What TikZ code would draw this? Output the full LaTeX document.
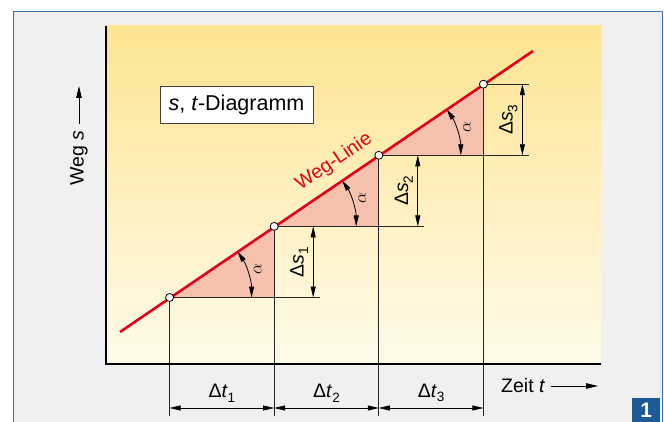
\documentclass[tikz,border=0pt]{standalone}
\usepackage{fontspec}
\setmainfont{Liberation Sans}
\usetikzlibrary{arrows.meta, calc}
\definecolor{framecol}{HTML}{2F74B5}
\definecolor{panelcol}{HTML}{F0F0F0}
\definecolor{plottop}{HTML}{FDE491}
\definecolor{plotbot}{HTML}{FFFBEA}
\definecolor{wegcol}{HTML}{E2001A}
\definecolor{deltacol}{HTML}{F6C2AE}
\definecolor{badgecol}{HTML}{1B5A94}
\newcommand{\lowsub}[1]{\raisebox{-0.45ex}{\fontsize{13.5}{14}\selectfont #1}}
\tikzset{
  pt node/.style={circle, draw=black, fill=white, minimum size=8pt,
                  inner sep=0pt, line width=0.8pt},
  thin line/.style={line width=0.7pt, black!85},
  axis line/.style={line width=1.6pt, black},
  weg line/.style={line width=2.6pt, wegcol},
  dim arr/.style={{Triangle[length=11pt,width=5pt]}-{Triangle[length=11pt,width=5pt]},
                  line width=0.7pt, black},
  ang arr/.style={dim arr, line width=0.8pt},
  ax arr/.style={-{Triangle[length=12pt,width=5.5pt]}, line width=0.9pt},
  lbl/.style={font=\fontsize{19.5}{21}\selectfont, inner sep=1pt},
  box lbl/.style={lbl, draw=black!75, fill=white, line width=0.8pt,
                  minimum width=153pt, minimum height=37pt,
                  font=\fontsize{21.5}{23}\selectfont},
  alpha lbl/.style={font=\fontsize{17}{18}\selectfont, rotate=90, inner sep=0pt},
}

\begin{document}
\begin{tikzpicture}[x=1pt, y=-1pt]
    \useasboundingbox (0,0) rectangle (664,422);
    % panel
    \fill[white] (0,0) rectangle (664,422);
    \draw[framecol, fill=panelcol, line width=1pt] (13,430) -- (13,12) -- (662,12) -- (662,430);
    \shade[top color=plottop, bottom color=plotbot] (106,26) rectangle (601,364);

    \coordinate (p0) at (169.6,297.5);
    \coordinate (p1) at (274.2,226.4);
    \coordinate (p2) at (378.8,155.3);
    \coordinate (p3) at (483.4,84.2);
    \coordinate (ls) at (120,332);
    \coordinate (le) at (533,51);
    \coordinate (base) at (0,408);
    \coordinate (bot) at (0,416);
    \coordinate (row) at (0,393);

    % triangles
    \fill[deltacol] (p0) -- (p1) -- (p1 |- p0) -- cycle;
    \fill[deltacol] (p1) -- (p2) -- (p2 |- p1) -- cycle;
    \fill[deltacol] (p2) -- (p3) -- (p3 |- p2) -- cycle;

    \draw[thin line] (p0) -- ++(150,0);
    \draw[thin line] (p1) -- ++(150,0);
    \draw[thin line] (p2) -- ++(150,0);
    \draw[thin line] (p3) -- ++(46,0);
    \draw[thin line] (p0) -- (p0 |- bot);
    \draw[thin line] (p1) -- (p1 |- bot);
    \draw[thin line] (p2) -- (p2 |- bot);
    \draw[thin line] (p3) -- (p3 |- bot);

    \draw[axis line] (106,26) -- (106,364) -- (601,364);

    % angles
    \draw[ang arr] (p0) ++(-34.2:82) arc[start angle=-34.2, end angle=0, radius=82];
    \draw[ang arr] (p1) ++(-34.2:82) arc[start angle=-34.2, end angle=0, radius=82];
    \draw[ang arr] (p2) ++(-34.2:82) arc[start angle=-34.2, end angle=0, radius=82];
    \node[alpha lbl] (a0) at ($(p0)+(88,-28)$) {$\alpha$};
    \node[alpha lbl] (a1) at ($(p1)+(88,-28)$) {$\alpha$};
    \node[alpha lbl] (a2) at ($(p2)+(88,-28)$) {$\alpha$};

    % delta s
    \draw[dim arr] ($(p1 |- p0)+(39,0)$) -- ($(p1)+(39,0)$);
    \draw[dim arr] ($(p2 |- p1)+(39,0)$) -- ($(p2)+(39,0)$);
    \draw[dim arr] ($(p3 |- p2)+(39,0)$) -- ($(p3)+(39,0)$);
    \node[lbl, rotate=90] (ds1) at ($(p1)+(25,35.5)$) {Δ\textit{s}\lowsub{1}};
    \node[lbl, rotate=90] (ds2) at ($(p2)+(25,35.5)$) {Δ\textit{s}\lowsub{2}};
    \node[lbl, rotate=90] (ds3) at ($(p3)+(25,35.5)$) {Δ\textit{s}\lowsub{3}};

    % delta t
    \draw[dim arr] (p0 |- base) -- (p1 |- base);
    \draw[dim arr] (p1 |- base) -- (p2 |- base);
    \draw[dim arr] (p2 |- base) -- (p3 |- base);
    \node[lbl] (dt1) at ($(p0 |- row)!0.5!(p1 |- row)$) {Δ\textit{t}\lowsub{1}};
    \node[lbl] (dt2) at ($(p1 |- row)!0.5!(p2 |- row)$) {Δ\textit{t}\lowsub{2}};
    \node[lbl] (dt3) at ($(p2 |- row)!0.5!(p3 |- row)$) {Δ\textit{t}\lowsub{3}};

    % path line
    \draw[weg line] (ls) -- (le);
    \node[lbl, text=wegcol, rotate=34.2] (weg) at (334,162) {Weg-Linie};
    \node[pt node] (P0) at (p0) {};
    \node[pt node] (P1) at (p1) {};
    \node[pt node] (P2) at (p2) {};
    \node[pt node] (P3) at (p3) {};

    % axes labels
    \node[lbl, rotate=90] (ylbl) at (79,158) {Weg \textit{s}};
    \coordinate (ya) at (79,124);
    \coordinate (yb) at (79,86);
    \draw[ax arr] (ya) -- (yb);
    \node[lbl, anchor=west] (xlbl) at (500,386) {Zeit \textit{t}};
    \coordinate (xa) at ($(xlbl.east)+(5,0)$);
    \coordinate (xb) at (598,386);
    \draw[ax arr] (xa) -- (xb);

    \node[box lbl] (title) at (236.5,104.5) {\textit{s}, \textit{t}-Diagramm};

    % badge
    \node[fill=badgecol, text=white, font=\fontsize{21}{21}\selectfont\bfseries,
          minimum width=28pt, minimum height=24pt, anchor=north west, inner sep=0pt]
          (badge) at (632,398) {1};
\end{tikzpicture}
\end{document}
